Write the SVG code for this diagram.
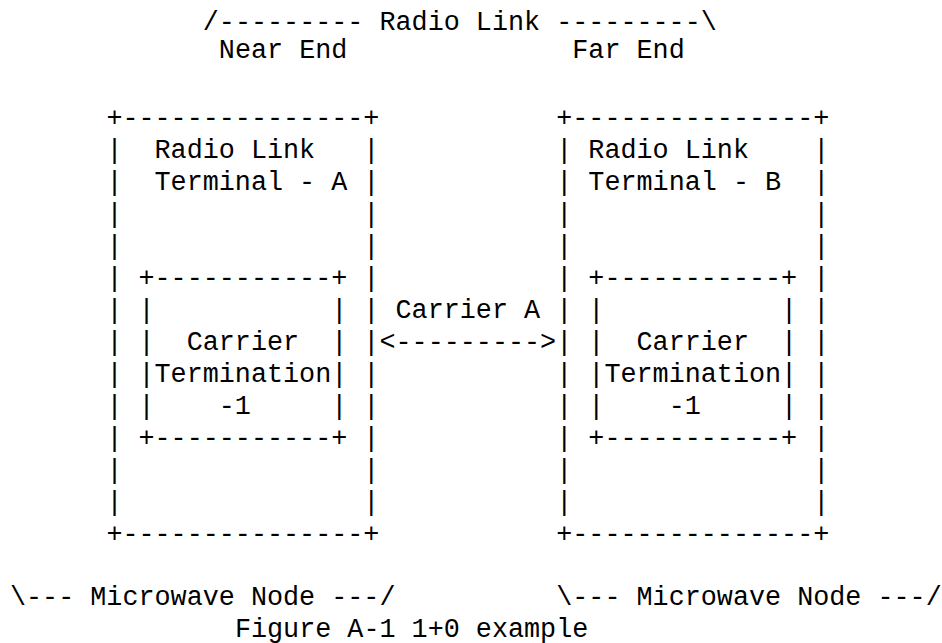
<svg xmlns="http://www.w3.org/2000/svg" width="942" height="643" viewBox="0 0 942 643">
<style>
  text { font-family: "Liberation Mono", "Courier New", monospace; font-size: 26.77px; fill: #000; white-space: pre; }
</style>
<rect width="942" height="643" fill="#fff"/>
<g id="radio-link-label">
  <text x="202.78" y="30" xml:space="preserve">/--------- Radio Link ---------\</text>
  <text x="218.85" y="58" xml:space="preserve">Near End</text>
  <text x="572.28" y="58" xml:space="preserve">Far End</text>
</g>
<g id="node-a">
  <text x="106.39" y="126" xml:space="preserve">+---------------+</text>
  <text x="106.39" y="158" xml:space="preserve">|  Radio Link   |</text>
  <text x="106.39" y="190" xml:space="preserve">|  Terminal - A |</text>
  <text x="106.39" y="222" xml:space="preserve">|               |</text>
  <text x="106.39" y="254" xml:space="preserve">|               |</text>
  <text x="106.39" y="286" xml:space="preserve">| +-----------+ |</text>
  <text x="106.39" y="318" xml:space="preserve">| |           | |</text>
  <text x="106.39" y="350" xml:space="preserve">| |  Carrier  | |</text>
  <text x="106.39" y="382" xml:space="preserve">| |Termination| |</text>
  <text x="106.39" y="414" xml:space="preserve">| |    -1     | |</text>
  <text x="106.39" y="446" xml:space="preserve">| +-----------+ |</text>
  <text x="106.39" y="478" xml:space="preserve">|               |</text>
  <text x="106.39" y="510" xml:space="preserve">|               |</text>
  <text x="106.39" y="542" xml:space="preserve">+---------------+</text>
</g>
<g id="node-b">
  <text x="556.21" y="126" xml:space="preserve">+---------------+</text>
  <text x="556.21" y="158" xml:space="preserve">| Radio Link    |</text>
  <text x="556.21" y="190" xml:space="preserve">| Terminal - B  |</text>
  <text x="556.21" y="222" xml:space="preserve">|               |</text>
  <text x="556.21" y="254" xml:space="preserve">|               |</text>
  <text x="556.21" y="286" xml:space="preserve">| +-----------+ |</text>
  <text x="556.21" y="318" xml:space="preserve">| |           | |</text>
  <text x="556.21" y="350" xml:space="preserve">| |  Carrier  | |</text>
  <text x="556.21" y="382" xml:space="preserve">| |Termination| |</text>
  <text x="556.21" y="414" xml:space="preserve">| |    -1     | |</text>
  <text x="556.21" y="446" xml:space="preserve">| +-----------+ |</text>
  <text x="556.21" y="478" xml:space="preserve">|               |</text>
  <text x="556.21" y="510" xml:space="preserve">|               |</text>
  <text x="556.21" y="542" xml:space="preserve">+---------------+</text>
</g>
<g id="connectors">
  <text x="379.50" y="318" xml:space="preserve"> Carrier A </text>
  <text x="379.50" y="350" xml:space="preserve">&lt;---------&gt;</text>
</g>
<g id="microwave-node-labels">
  <text x="10" y="605" xml:space="preserve">\--- Microwave Node ---/</text>
  <text x="556.21" y="605" xml:space="preserve">\--- Microwave Node ---/</text>
</g>
<g id="caption">
  <text x="234.91" y="636.5" xml:space="preserve">Figure A-1 1+0 example</text>
</g>
</svg>
